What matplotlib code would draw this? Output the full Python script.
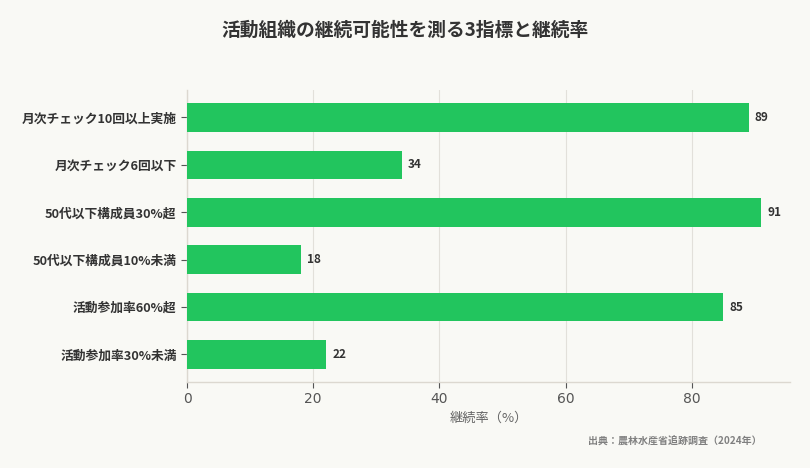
import matplotlib
matplotlib.use("Agg")
import matplotlib.pyplot as plt

plt.rcParams['font.family'] = ['Noto Sans CJK JP', 'DejaVu Sans']

# data
categories = [
    "月次チェック10回以上実施",
    "月次チェック6回以下",
    "50代以下構成員30%超",
    "50代以下構成員10%未満",
    "活動参加率60%超",
    "活動参加率30%未満",
]
rates = [89, 34, 91, 18, 85, 22]

title = "活動組織の継続可能性を測る3指標と継続率"
xlabel = "継続率（%）"
source = "出典：農林水産省追跡調査（2024年）"

bg = "#f9f9f5"
green = "#22c55e"

fig = plt.figure(figsize=(8.1, 4.68), dpi=100, facecolor=bg)
ax = fig.add_axes([0.2309, 0.1838, 0.7444, 0.6239])
ax.set_facecolor(bg)

ypos = list(range(len(categories)))[::-1]
ax.barh(ypos, rates, height=0.6, color=green, zorder=3)

for y, v in zip(ypos, rates):
    ax.text(v + 1.0, y, str(v), va="center", ha="left",
            fontsize=8.5, fontweight="bold", color="#333333")

ax.set_yticks(ypos)
ax.set_yticklabels(categories, fontsize=9.2, fontweight="bold", color="#333333")
ax.set_xlim(0, max(rates) * 1.05)
ax.set_xticks([0, 20, 40, 60, 80])
ax.tick_params(axis="x", labelsize=10, colors="#555555", length=4, color="#555555")
ax.tick_params(axis="y", length=4, color="#555555")
for lbl in ax.get_xticklabels():
    lbl.set_family("DejaVu Sans")

ax.grid(axis="x", color="#e2e0da", linewidth=0.8, zorder=0)
ax.grid(axis="y", visible=False)
for s in ["top", "right"]:
    ax.spines[s].set_visible(False)
for s in ["left", "bottom"]:
    ax.spines[s].set_color("#dcd8d0")
    ax.spines[s].set_linewidth(1.0)

ax.set_xlabel(xlabel, fontsize=9.5, color="#666666", labelpad=4)

fig.suptitle(title, x=0.5, y=0.955, fontsize=13.5, fontweight="bold", color="#333333")
fig.text(0.94, 0.056, source, ha="right", va="center", fontsize=7.2,
         fontweight="bold", color="#808080")

fig.savefig("out.png", dpi=100, facecolor=bg)
